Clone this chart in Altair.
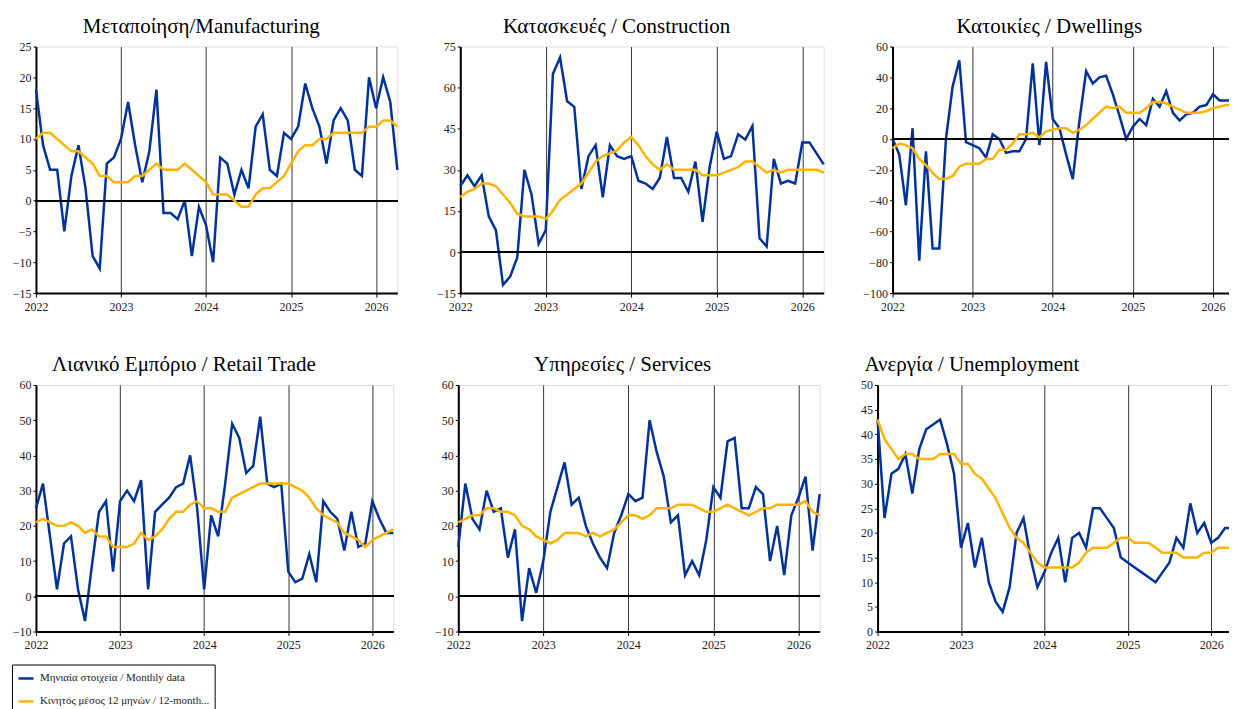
import altair as alt
import pandas as pd

FONT = "Liberation Serif"
BLUE = "#003399"
ORANGE = "#FFB300"

months = list(range(52))
year_ticks = [0, 12, 24, 36, 48]
series_names = ["Μηνιαία στοιχεία / Monthly data", "Κινητός μέσος 12 μηνών / 12-month..."]

titles = [
    "Μεταποίηση/Manufacturing",
    "Κατασκευές / Construction",
    "Κατοικίες / Dwellings",
    "Λιανικό Εμπόριο / Retail Trade",
    "Υπηρεσίες / Services",
    "Ανεργία / Unemployment",
]

manuf_monthly = [18, 9, 5, 5, -5, 4, 9, 2, -9, -11, 6, 7, 10, 16, 9, 3, 8, 18, -2, -2, -3, 0, -9, -1, -4, -10,
                 7, 6, 1, 5, 2, 12, 14, 5, 4, 11, 10, 12, 19, 15, 12, 6, 13, 15, 13, 5, 4, 20, 15, 20, 16, 5]
manuf_ma = [10, 11, 11, 10, 9, 8, 8, 7, 6, 4, 4, 3, 3, 3, 4, 4, 5, 6, 5, 5, 5, 6, 5, 4, 3, 1,
            1, 1, 0, -1, -1, 1, 2, 2, 3, 4, 6, 8, 9, 9, 10, 10, 11, 11, 11, 11, 11, 12, 12, 13, 13, 12]

constr_monthly = [24, 28, 24, 28, 13, 8, -12, -9, -2, 30, 21, 3, 8, 65, 71, 55, 53, 23, 35, 39, 20, 39, 35, 34, 35, 26,
                  25, 23, 27, 42, 27, 27, 22, 33, 11, 31, 44, 34, 35, 43, 41, 46, 5, 2, 34, 25, 26, 25, 40, 40, 36, 32]
constr_ma = [20, 22, 23, 25, 25, 24, 21, 18, 14, 13, 13, 13, 12, 15, 19, 21, 23, 25, 29, 33, 35, 36, 37, 40, 42, 39,
             35, 32, 30, 32, 30, 30, 30, 30, 28, 28, 28, 29, 30, 31, 33, 33, 31, 29, 30, 29, 30, 30, 30, 30, 30, 29]

dwell_monthly = [0, -10, -43, 7, -79, -8, -71, -71, 0, 34, 51, -2, -4, -6, -12, 3, 0, -9, -8, -8, 0, 49,
                 -4, 50, 13, 7, -10, -26, 12, 44, 36, 40, 41, 29, 15, 0, 8, 13, 9, 26, 21, 31, 17, 12, 16, 17,
                 21, 22, 29, 25, 25, 25]
dwell_ma = [-6, -3, -4, -6, -13, -17, -22, -26, -26, -24, -18, -16, -16, -16, -13, -13, -7, -7, -3, 3, 3, 4, 1, 5,
            6, 7, 7, 4, 6, 9, 13, 17, 21, 20, 21, 17, 17, 17, 20, 24, 24, 23, 21, 19, 17, 17, 17, 18, 20, 21, 22, 22]

retail_monthly = [25, 32, 17, 2, 15, 17, 2, -7, 9, 24, 27, 7, 27, 30, 27, 33, 2, 24, 26, 28, 31, 32, 40, 25, 2, 23,
                  17, 32, 49, 45, 35, 37, 51, 32, 31, 32, 7, 4, 5, 12, 4, 27, 24, 22, 13, 24, 14, 15, 27, 22, 18, 18]
retail_ma = [21, 22, 21, 20, 20, 21, 20, 18, 19, 17, 17, 14, 14, 14, 15, 18, 16, 17, 19, 22, 24, 24, 26, 27, 25, 25,
             24, 24, 28, 29, 30, 31, 32, 32, 32, 32, 32, 31, 30, 28, 25, 23, 22, 21, 18, 17, 16, 14, 16, 17, 18, 19]

serv_monthly = [14, 32, 22, 19, 30, 24, 25, 11, 19, -7, 8, 1, 10, 24, 31, 38, 26, 28, 20, 15, 11, 8, 18, 23, 29, 27,
                28, 50, 41, 34, 21, 23, 6, 10, 6, 16, 31, 28, 44, 45, 25, 25, 31, 29, 10, 20, 6, 23, 28, 34, 13, 29]
serv_ma = [21, 22, 23, 23, 25, 25, 24, 24, 23, 20, 19, 17, 16, 15, 16, 18, 18, 18, 17, 18, 17, 18, 19, 21, 23, 23,
           22, 23, 25, 25, 25, 26, 26, 26, 25, 24, 24, 25, 26, 25, 24, 23, 24, 25, 25, 26, 26, 26, 26, 27, 24, 23]

unemp_monthly = [43, 23, 32, 33, 36, 28, 37, 41, 42, 43, 38, 32, 17, 22, 13, 19, 10, 6, 4, 9, 20, 23, 15, 9, 12, 16,
                 19, 10, 19, 20, 17, 25, 25, 23, 21, 15, 14, 13, 12, 11, 10, 12, 14, 19, 17, 26, 20, 22, 18, 19, 21, 21]
unemp_ma = [43, 39, 37, 35, 36, 36, 35, 35, 35, 36, 36, 36, 34, 34, 32, 31, 29, 27, 24, 21, 19, 18, 16, 14, 13, 13,
            13, 13, 13, 14, 16, 17, 17, 17, 18, 19, 19, 18, 18, 18, 17, 16, 16, 16, 15, 15, 15, 16, 16, 17, 17, 17]


def panel(title, monthly, ma, ydom, ystep, width, title_dx, legend=None):
    df = pd.DataFrame({
        "m": months * 2,
        "v": monthly + ma,
        "s": [series_names[0]] * len(months) + [series_names[1]] * len(months),
    })
    yvals = list(range(ydom[0], ydom[1] + 1, ystep))
    x = alt.X("m:Q", title=None,
              scale=alt.Scale(domain=[0, 51], nice=False, zero=False),
              axis=alt.Axis(values=year_ticks, tickCount=20, labelExpr="2022 + floor(datum.value / 12)",
                            grid=True, gridColor="#333333", gridWidth=1, gridOpacity=1,
                            domainColor="black", domainWidth=2, tickColor="black", tickSize=4,
                            labelFont=FONT, labelFontSize=12, labelColor="#222222",
                            labelPadding=4, labelFlush=False, labelOverlap=False, zindex=0))
    y = alt.Y("v:Q", title=None,
              scale=alt.Scale(domain=ydom, nice=False, zero=False),
              axis=alt.Axis(values=yvals, tickCount=30, grid=False,
                            domainColor="black", domainWidth=2, tickColor="black", tickSize=3,
                            labelFont=FONT, labelFontSize=12, labelColor="#222222", labelPadding=2,
                            labelOverlap=False, labelFlush=False, zindex=0))
    color = alt.Color("s:N", scale=alt.Scale(domain=series_names, range=[BLUE, ORANGE]),
                      legend=legend)
    base = alt.Chart(df)
    l1 = base.transform_filter(alt.datum.s == series_names[0]).mark_line(strokeWidth=2.5).encode(x=x, y=y, color=color)
    l2 = base.transform_filter(alt.datum.s == series_names[1]).mark_line(strokeWidth=2.5).encode(x=x, y=y, color=color)
    zero = alt.Chart(df).mark_rule(color="black", strokeWidth=1).encode(y=alt.datum(0))
    return alt.layer(l1, zero, l2).properties(
        width=width, height=247,
        title=alt.TitleParams(title, font=FONT, fontSize=21, fontWeight="normal", color="black",
                              anchor="middle", frame="bounds", offset=4, dx=title_dx),
    )


legend = alt.Legend(orient="none", legendX=-24, legendY=280, title=None,
                    strokeColor="black", fillColor="white", padding=5,
                    labelFont=FONT, labelFontSize=11, labelColor="#222222", labelLimit=500,
                    symbolType="stroke", symbolSize=225, symbolStrokeWidth=2.5, rowPadding=9, labelOffset=5)

p1 = panel(titles[0], manuf_monthly, manuf_ma, [-15, 25], 5, 362, -6)
p2 = panel(titles[1], constr_monthly, constr_ma, [-15, 75], 15, 364, -16)
p3 = panel(titles[2], dwell_monthly, dwell_ma, [-100, 60], 20, 341, -1)
p4 = panel(titles[3], retail_monthly, retail_ma, [-10, 60], 10, 358, -21, legend)
p5 = panel(titles[4], serv_monthly, serv_ma, [-10, 60], 10, 362, -7)
p6 = panel(titles[5], unemp_monthly, unemp_ma, [0, 50], 5, 355, -77)

row1 = alt.hconcat(p1, p2, p3, spacing=32).resolve_scale(color="independent").resolve_legend(color="independent")
row2 = alt.hconcat(p4, p5, p6, spacing=34).resolve_scale(color="independent").resolve_legend(color="independent")

chart = alt.vconcat(row1, row2, spacing=40).resolve_scale(color="independent").resolve_legend(color="independent").configure_view(
    stroke="#888888", strokeWidth=1.5
).configure_axis(labelOverlap=False).configure(
    background="white", padding={"left": 3, "top": 6, "right": -10, "bottom": 5}
)

chart.save("out.html", embed_options={"renderer": "svg", "actions": False})
